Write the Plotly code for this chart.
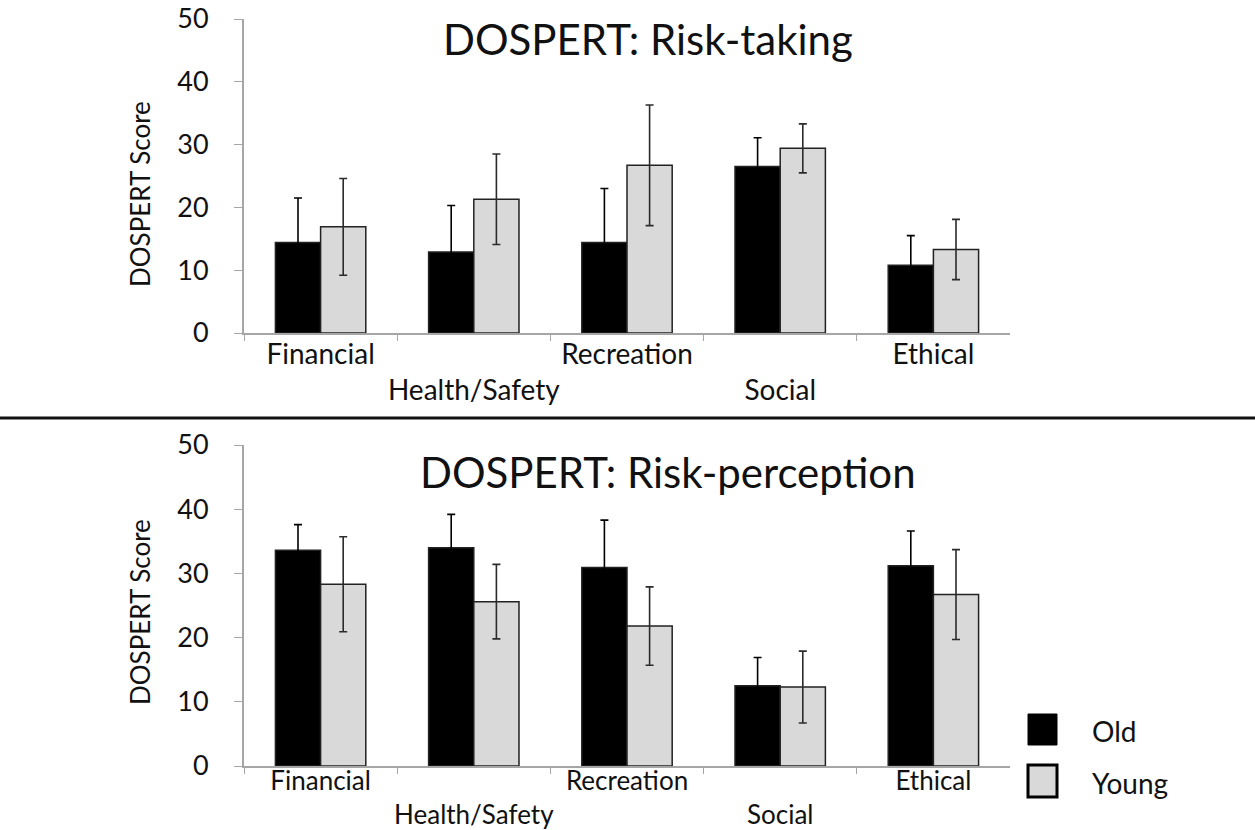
import plotly.graph_objects as go

# DOSPERT domains
categories = ["Financial", "Health/Safety", "Recreation", "Social", "Ethical"]
# staggered tick labels (every second label drops one line)
tick_labels = ["Financial", "<br>Health/Safety", "Recreation", "<br>Social", "Ethical"]

# Risk-taking scores (mean and error)
taking_old = [14.4, 12.9, 14.4, 26.5, 10.8]
taking_old_err = [7.1, 7.4, 8.6, 4.6, 4.7]
taking_young = [16.9, 21.3, 26.7, 29.4, 13.3]
taking_young_err = [7.7, 7.2, 9.6, 3.9, 4.8]

# Risk-perception scores (mean and error)
perc_old = [33.6, 34.0, 30.9, 12.5, 31.2]
perc_old_err = [4.0, 5.2, 7.4, 4.4, 5.4]
perc_young = [28.3, 25.6, 21.8, 12.3, 26.7]
perc_young_err = [7.4, 5.8, 6.1, 5.6, 7.0]

W, H = 1255, 830
FONT = "Lato"
TEXT = "#111111"
OLD_FILL = "#000000"
YOUNG_FILL = "#d9d9d9"
AXIS_GREY = "#a6a6a6"


def px_x(v):
    return v / W


def px_y(v):
    return 1 - v / H


def bar(name, x, y, err, fill, err_color, xa, ya):
    return go.Bar(
        name=name, x=x, y=y, xaxis=xa, yaxis=ya,
        marker=dict(color=fill, line=dict(color="#222222", width=1.5)),
        error_y=dict(type="data", array=err, visible=True,
                     color=err_color, thickness=1.6, width=4),
        showlegend=False,
    )


fig = go.Figure()
fig.add_trace(bar("Old", categories, taking_old, taking_old_err, OLD_FILL, "#000000", "x", "y"))
fig.add_trace(bar("Young", categories, taking_young, taking_young_err, YOUNG_FILL, "#2b2b2b", "x", "y"))
fig.add_trace(bar("Old", categories, perc_old, perc_old_err, OLD_FILL, "#000000", "x2", "y2"))
fig.add_trace(bar("Young", categories, perc_young, perc_young_err, YOUNG_FILL, "#2b2b2b", "x2", "y2"))


def xaxis_style(size, standoff):
    return dict(
        type="category", tickmode="array", tickvals=categories, ticktext=tick_labels,
        tickangle=0, ticklabelstandoff=standoff,
        showline=True, linecolor=AXIS_GREY, linewidth=2,
        ticks="outside", tickson="boundaries", ticklen=6, tickcolor=AXIS_GREY,
        tickfont=dict(family=FONT, size=size, color=TEXT),
        showgrid=False, zeroline=False, automargin=False,
    )


yaxis_style = dict(
    range=[0, 50], dtick=10, tick0=0,
    showline=True, linecolor=AXIS_GREY, linewidth=2,
    ticks="outside", ticklen=8, tickcolor=AXIS_GREY, ticklabelstandoff=20,
    tickfont=dict(family=FONT, size=27, color=TEXT),
    showgrid=False, zeroline=False, automargin=False,
)

x_dom = [px_x(244), px_x(1010)]

fig.update_layout(
    width=W, height=H,
    margin=dict(l=0, r=0, t=0, b=0, autoexpand=False),
    paper_bgcolor="white", plot_bgcolor="white",
    barmode="group", bargap=0.41, bargroupgap=0,
    xaxis=dict(domain=x_dom, anchor="y", **xaxis_style(28, -5)),
    yaxis=dict(domain=[px_y(333), px_y(19)], anchor="x", **yaxis_style),
    xaxis2=dict(domain=x_dom, anchor="y2", **xaxis_style(26, -9)),
    yaxis2=dict(domain=[px_y(766), px_y(445)], anchor="x2", **yaxis_style),
    showlegend=False,
)


def note(text, x, y, size, angle=0, xanchor="center"):
    fig.add_annotation(text=text, x=px_x(x), y=px_y(y), xref="paper", yref="paper",
                       showarrow=False, textangle=angle,
                       xanchor=xanchor, yanchor="middle",
                       font=dict(family=FONT, size=size, color=TEXT))


# panel titles
note("DOSPERT: Risk-taking", 648, 39, 42)
note("DOSPERT: Risk-perception", 668, 472, 42)

# y-axis titles
note("DOSPERT Score", 140, 194, 26, angle=-90)
note("DOSPERT Score", 140, 612, 26, angle=-90)

# separator between the two panels
fig.add_shape(type="line", xref="paper", yref="paper",
              x0=0, x1=1, y0=px_y(418), y1=px_y(418),
              line=dict(color="#111111", width=3))

# legend keys
fig.add_shape(type="rect", xref="paper", yref="paper",
              x0=px_x(1028), x1=px_x(1057), y0=px_y(745), y1=px_y(714),
              fillcolor=OLD_FILL, line=dict(color="#000000", width=1))
fig.add_shape(type="rect", xref="paper", yref="paper",
              x0=px_x(1028), x1=px_x(1057), y0=px_y(797), y1=px_y(765),
              fillcolor=YOUNG_FILL, line=dict(color="#000000", width=3))
note("Old", 1090, 731, 28, xanchor="left")
note("Young", 1090, 783, 28, xanchor="left")

fig.write_html("out.html")
